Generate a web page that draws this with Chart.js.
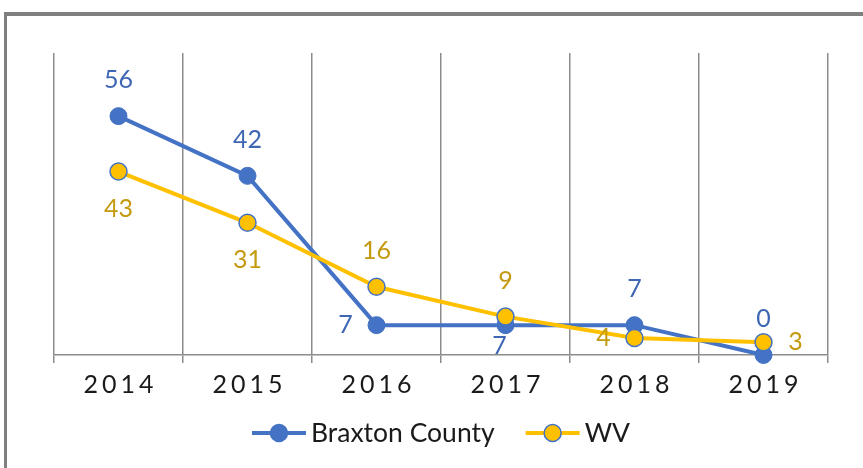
<!DOCTYPE html>
<html>
<head>
<meta charset="utf-8">
<script src="https://cdn.jsdelivr.net/npm/chart.js@4.4.1/dist/chart.umd.min.js"></script>
<style>
    body { margin: 0; background: #fff; overflow: hidden; }
    #wrap { position: relative; width: 863px; height: 468px; }
    #frame {
        position: absolute; left: 4px; top: 12px; width: 900px; height: 500px;
        border-top: 4px solid #7f7f7f; border-left: 3px solid #7f7f7f;
    }
    canvas { position: absolute; left: 0; top: 0; }
</style>
</head>
<body>
<div id="wrap">
    <div id="frame"></div>
    <canvas id="chart" width="863" height="468"></canvas>
</div>
<script>
// data
const years = ['2014', '2015', '2016', '2017', '2018', '2019'];
const braxton = [56, 42, 7, 7, 7, 0];
const wv = [43, 31, 16, 9, 4, 3];

// where each value label sits relative to its point
const braxtonLabelPos = ['top', 'top', 'left', 'under', 'top', 'top'];
const wvLabelPos = ['bottom', 'bottom', 'top', 'top', 'left', 'right'];

const BLUE = '#4472C4';
const GOLD = '#FFC000';
const GRID = '#8c8c8c';
const FONT = 'Lato, "Open Sans", sans-serif';

// value labels (no datalabels plugin available offline)
const valueLabels = {
    id: 'valueLabels',
    afterDatasetsDraw(chart) {
        const ctx = chart.ctx;
        ctx.save();
        ctx.font = '25px ' + FONT;
        ctx.textAlign = 'center';
        ctx.textBaseline = 'middle';
        chart.data.datasets.forEach((ds, di) => {
            const meta = chart.getDatasetMeta(di);
            ctx.fillStyle = ds.labelColor;
            meta.data.forEach((pt, i) => {
                let x = pt.x, y = pt.y;
                const pos = ds.labelPos[i];
                if (pos === 'top') y -= 36;
                else if (pos === 'bottom') y += 37;
                else if (pos === 'under') { y += 21; x -= 6; }
                else if (pos === 'left') x -= 31;
                else if (pos === 'right') x += 32;
                ctx.fillText(String(ds.data[i]), x, y);
            });
        });
        ctx.restore();
    }
};

// spaced tick labels + legend with line-and-marker swatches
const extras = {
    id: 'extras',
    afterDraw(chart) {
        const ctx = chart.ctx;
        const xs = chart.scales.x;
        ctx.save();

        // x tick labels
        ctx.font = '25px ' + FONT;
        ctx.fillStyle = '#1a1a1a';
        ctx.textBaseline = 'middle';
        ctx.textAlign = 'left';
        const ls = 4;
        ctx.letterSpacing = ls + 'px';
        years.forEach((y, i) => {
            const w = ctx.measureText(y).width - ls;
            ctx.fillText(y, xs.getPixelForTick(i) - w / 2, 385);
        });
        ctx.letterSpacing = '0px';

        // legend
        const items = chart.data.datasets.map(ds => ({
            text: ds.label, line: ds.borderColor, fill: ds.pointBackgroundColor, edge: ds.pointBorderColor
        }));
        ctx.font = '26.5px ' + FONT;
        const sw = 54, gapText = 5, gapItem = 31;
        let total = 0;
        items.forEach((it, i) => {
            it.w = ctx.measureText(it.text).width;
            total += sw + gapText + it.w + (i ? gapItem : 0);
        });
        const cy = 433;
        let x = (chart.chartArea.left + chart.chartArea.right) / 2 - total / 2;
        items.forEach(it => {
            ctx.strokeStyle = it.line;
            ctx.lineWidth = 4;
            ctx.beginPath();
            ctx.moveTo(x, cy);
            ctx.lineTo(x + sw, cy);
            ctx.stroke();
            ctx.beginPath();
            ctx.arc(x + sw / 2, cy, 8.5, 0, Math.PI * 2);
            ctx.fillStyle = it.fill;
            ctx.fill();
            ctx.lineWidth = 1.5;
            ctx.strokeStyle = it.edge;
            ctx.stroke();
            ctx.fillStyle = '#1a1a1a';
            ctx.fillText(it.text, x + sw + gapText, cy);
            x += sw + gapText + it.w + gapItem;
        });
        ctx.restore();
    }
};

new Chart(document.getElementById('chart'), {
    type: 'line',
    data: {
        labels: years,
        datasets: [
            {
                label: 'Braxton County',
                data: braxton,
                borderColor: BLUE,
                borderWidth: 4,
                pointRadius: 8.5,
                pointBackgroundColor: BLUE,
                pointBorderColor: BLUE,
                pointBorderWidth: 1,
                labelColor: '#3f66b3',
                labelPos: braxtonLabelPos,
                clip: false,
                order: 2
            },
            {
                label: 'WV',
                data: wv,
                borderColor: GOLD,
                borderWidth: 4,
                pointRadius: 8.5,
                pointBackgroundColor: GOLD,
                pointBorderColor: BLUE,
                pointBorderWidth: 1.5,
                labelColor: '#c39a10',
                labelPos: wvLabelPos,
                clip: false,
                order: 1
            }
        ]
    },
    options: {
        responsive: false,
        animation: false,
        devicePixelRatio: 1,
        layout: { padding: { left: 54, right: 35, top: 53, bottom: 0 } },
        plugins: {
            legend: { display: false },
            tooltip: { enabled: false }
        },
        scales: {
            x: {
                offset: true,
                grid: { offset: true, color: GRID, lineWidth: 1.5, drawTicks: true, tickLength: 8 },
                border: { display: true, color: GRID, width: 1.5 },
                ticks: { color: 'rgba(0,0,0,0)', font: { size: 25 } },
                afterFit(scale) { scale.height = 113; }
            },
            y: {
                display: false,
                min: 0,
                max: 70.8
            }
        }
    },
    plugins: [valueLabels, extras]
});
</script>
</body>
</html>
